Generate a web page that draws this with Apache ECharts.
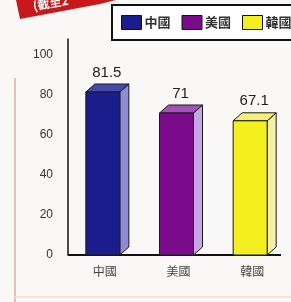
<!DOCTYPE html>
<html>
<head>
<meta charset="utf-8">
<script src="https://cdn.jsdelivr.net/npm/echarts@6/dist/echarts.min.js"></script>
<style>
  html, body { margin: 0; padding: 0; background: #f9f8f6; }
  #chart { width: 291px; height: 302px; }
</style>
</head>
<body>
<div id="chart"></div>
<script>
// 數據
var categories = ['中國', '美國', '韓國'];
var values = [81.5, 71, 67.1];
var yTicks = [0, 20, 40, 60, 80, 100];
// 顏色: 正面, 側面, 頂面
var frontColors = ['#1b1d8c', '#7a0c8c', '#f4f020'];
var sideColors = ['#8c8cd8', '#c4a6e4', '#f2f0a6'];
var topColors = ['#4648ac', '#a452b8', '#f6f07a'];

var chart = echarts.init(document.getElementById('chart'));

// 3D 柱子
function renderBar(params, api) {
  var top = api.coord([api.value(0), api.value(1)]);
  var base = api.coord([api.value(0), 0]);
  var i = api.value(0);
  var x0 = top[0] - 19, x1 = top[0] + 15, dx = 9, dy = 8;
  var line = { stroke: '#1a1a1a', lineWidth: 1 };
  return {
    type: 'group',
    children: [
      { type: 'polygon', shape: { points: [[x1, top[1]], [x1 + dx, top[1] - dy], [x1 + dx, base[1] - dy], [x1, base[1]]] },
        style: Object.assign({ fill: sideColors[i] }, line) },
      { type: 'polygon', shape: { points: [[x0, top[1]], [x0 + dx, top[1] - dy], [x1 + dx, top[1] - dy], [x1, top[1]]] },
        style: Object.assign({ fill: topColors[i] }, line) },
      { type: 'rect', shape: { x: x0, y: top[1], width: x1 - x0, height: base[1] - top[1] },
        style: Object.assign({ fill: frontColors[i] }, line) },
      { type: 'text', x: top[0] + 2, y: top[1] - dy - 4,
        style: { text: String(values[i]), fill: '#222', font: '15px Arial', align: 'center', verticalAlign: 'bottom' } }
    ]
  };
}

var series = categories.map(function (name, i) {
  return {
    name: name,
    type: 'custom',
    renderItem: renderBar,
    itemStyle: { color: frontColors[i] },
    encode: { x: 0, y: 1 },
    data: [[i, values[i]]]
  };
});

var option = {
  backgroundColor: '#f9f8f6',
  animation: false,
  legend: {
    left: 112,
    top: 5,
    width: 200,
    padding: [10, 10, 10, 9],
    backgroundColor: '#ffffff',
    borderColor: '#111',
    borderWidth: 2,
    borderRadius: 0,
    itemWidth: 20,
    itemHeight: 14,
    itemGap: 11,
    icon: 'rect',
    itemStyle: { borderColor: '#111', borderWidth: 1 },
    textStyle: { fontFamily: 'Noto Sans CJK TC', fontSize: 13, fontWeight: 'bold', color: '#333', padding: [0, 0, 0, -2] },
    data: categories
  },
  grid: { left: 68, right: 2, top: 39, bottom: 47 },
  xAxis: {
    type: 'category',
    data: categories,
    axisLine: { show: false },
    axisTick: { show: false },
    axisLabel: { color: '#444', fontSize: 12, fontFamily: 'Noto Sans CJK TC', margin: 10 }
  },
  yAxis: {
    type: 'value',
    min: 0,
    max: 108,
    interval: 20,
    splitLine: { show: false },
    axisLine: { show: true, lineStyle: { color: '#111', width: 1.5 } },
    axisTick: { show: false },
    axisLabel: {
      color: '#333', fontSize: 12, fontFamily: 'Arial', margin: 15, showMaxLabel: false,
      formatter: function (v) { return yTicks.indexOf(v) >= 0 ? String(v) : ''; }
    }
  },
  graphic: [
    { type: 'line', shape: { x1: 68, y1: 255, x2: 281, y2: 255 }, style: { stroke: '#111', lineWidth: 2 } },
    { type: 'line', shape: { x1: 15, y1: 78, x2: 15, y2: 302 }, style: { stroke: '#d8b2a4', lineWidth: 1.5 } },
    { type: 'line', shape: { x1: 15, y1: 297, x2: 291, y2: 297 }, style: { stroke: '#efe6d8', lineWidth: 2 } },
    { type: 'polygon', shape: { points: [[16, 0], [116, 0], [100, 4], [20, 19]] }, style: { fill: '#c8181c' } },
    { type: 'text', x: 34, y: 12, rotation: 0.17,
      style: { text: '(截至2', fill: '#fff', font: 'bold 12px "Noto Sans CJK TC"', verticalAlign: 'bottom' } }
  ],
  series: series
};

chart.setOption(option);
</script>
</body>
</html>
